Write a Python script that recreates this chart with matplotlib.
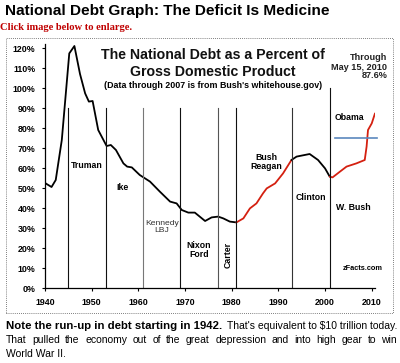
import numpy as np
import matplotlib.pyplot as plt
from matplotlib.patches import Rectangle

# debt as % of GDP
years = [1940.0, 1941.4, 1942.3, 1943.6, 1945.2, 1946.3, 1947.5, 1948.6, 1949.4, 1950.2,
         1951.4, 1953.2, 1954.1, 1955.2, 1956.8, 1957.6, 1958.6, 1960.3, 1962.5, 1964.6,
         1966.8, 1968.2, 1969.3, 1970.7, 1972.1, 1974.3, 1975.7, 1977.1, 1978.2, 1979.6,
         1981.0, 1982.5, 1983.9, 1985.3, 1986.7, 1987.5, 1989.3, 1991.0, 1992.8, 1993.9,
         1996.7, 1998.5, 2000.0, 2001.0, 2001.6, 2003.2, 2004.6, 2006.7, 2008.5, 2008.9,
         2009.2, 2010.0, 2010.7]
debt = [52.5, 50.5, 54.0, 74.0, 117.3, 121.0, 107.0, 97.3, 93.2, 93.5,
        79.0, 71.0, 71.5, 69.0, 62.3, 60.7, 60.3, 56.5, 53.2, 48.2,
        43.2, 42.3, 39.0, 37.7, 37.7, 33.5, 35.3, 35.7, 34.8, 33.2,
        32.8, 34.8, 39.8, 42.3, 47.3, 49.8, 52.3, 57.3, 64.0, 65.7,
        67.0, 64.0, 59.8, 55.7, 55.3, 58.2, 60.7, 62.3, 64.0, 70.7,
        79.0, 82.3, 87.3]

# party segments: (first year, last year, colour)
segments = [(1940, 1981.0, 'black'), (1981.0, 1992.8, '#d42010'), (1992.8, 2001.0, 'black'),
            (2001.0, 2011, '#d42010')]

# start years of each administration, top of its marker line, line colour
term_starts = [1945, 1953, 1961, 1969, 1977, 1981, 1993, 2001]
term_tops = [90, 90, 90, 90, 90, 90, 90, 100]
term_colors = ['#111111', '#111111', '#777777', '#111111', '#555555', '#111111', '#333333', '#111111']

presidents = ['Truman', 'Ike', 'Kennedy\nLBJ', 'Nixon\nFord', 'Carter',
              'Bush\nReagan', 'Clinton', 'W. Bush', 'Obama']
label_x = [1948.9, 1956.7, 1965.0, 1973.0, 1979.2, 1987.5, 1997.0, 2006.0, 2005.3]
label_y = [61.5, 50.0, 30.5, 19.0, 16.5, 63.0, 45.5, 40.5, 85.0]

caption_bold = 'Note the run-up in debt starting in 1942.'
caption_rest = "That's equivalent to $10 trillion today."
caption_2 = 'That pulled the economy out of the great depression and into high gear to win'
caption_3 = 'World War II.'

plt.rcParams['font.family'] = ['Liberation Sans', 'DejaVu Sans']

fig = plt.figure(figsize=(4.0, 3.63), dpi=100)
W, H = 400.0, 363.0

# header texts
fig.text(5 / W, 1 - 11 / H, 'National Debt Graph: The Deficit Is Medicine',
         fontsize=11.1, fontweight='bold', va='center', ha='left')
fig.text(0 / W, 1 - 28 / H, 'Click image below to enlarge.', color='#c00000',
         fontsize=7.6, fontweight='bold', family='Liberation Serif', va='center', ha='left')

# dotted frame round the chart image
fig.patches.append(Rectangle((6 / W, 1 - 313 / H), 387 / W, 275 / H, transform=fig.transFigure,
                             fill=False, ls=(0, (1, 1.5)), lw=0.6, ec='#555555'))

ax = fig.add_axes([45 / W, 1 - 288 / H, 330 / W, 244 / H])

yr = np.array(years)
dv = np.array(debt)
for a, b, c in segments:
    m = (yr >= a - 0.01) & (yr <= b + 0.01)
    ax.plot(yr[m], dv[m], color=c, lw=1.3, solid_joinstyle='round', solid_capstyle='round')

for x, top, c in zip(term_starts, term_tops, term_colors):
    ax.plot([x, x], [0, top], color=c, lw=0.8)

ax.plot([2002.1, 2011.2], [75.2, 75.2], color='#5b87be', lw=1.2, clip_on=False)

for name, x, y in zip(presidents, label_x, label_y):
    if name == 'Carter':
        ax.text(x, y, name, rotation=90, ha='center', va='center', fontsize=6.3, fontweight='bold')
    elif name == 'Kennedy\nLBJ':
        ax.text(x, y, name, ha='center', va='center', fontsize=6.1, color='#333333', linespacing=1.1)
    else:
        ax.text(x, y, name, ha='center', va='center', fontsize=6.3, fontweight='bold', linespacing=1.1)

ax.text(2008.0, 9.5, 'zFacts.com', ha='center', va='center', fontsize=5.3, fontweight='bold')

ax.text(1976.0, 116.5, 'The National Debt as a Percent of',
        ha='center', va='center', fontsize=10.2, fontweight='bold', color='#111111')
ax.text(1976.0, 108.0, 'Gross Domestic Product',
        ha='center', va='center', fontsize=10.2, fontweight='bold', color='#111111')
ax.text(1976.0, 101.5, "(Data through 2007 is from Bush's whitehouse.gov)",
        ha='center', va='center', fontsize=6.4, fontweight='bold')
ax.text(2013.3, 110.5, 'Through\nMay 15, 2010\n87.6%', ha='right', va='center',
        fontsize=6.6, fontweight='bold', linespacing=1.0, color='#222222')

ax.set_xlim(1940, 2010.7)
ax.set_ylim(0, 122)
ax.set_xticks([1940, 1950, 1960, 1970, 1980, 1990, 2000, 2010])
ax.set_yticks(range(0, 121, 10))
ax.set_yticklabels([f'{v}%' for v in range(0, 121, 10)])
for s in ['top', 'right']:
    ax.spines[s].set_visible(False)
for s in ['left', 'bottom']:
    ax.spines[s].set_linewidth(0.9)
ax.tick_params(axis='both', direction='out', length=2.0, width=0.8, labelsize=6.4)
ax.tick_params(axis='y', pad=5)
ax.tick_params(axis='x', pad=5)
for lab in ax.get_xticklabels() + ax.get_yticklabels():
    lab.set_fontweight('bold')
ax.patch.set_alpha(0)

# caption under the image
fig.text(6 / W, 1 - 326 / H, caption_bold, fontsize=8.2,
         fontweight='bold', va='center', ha='left')
fig.text(397 / W, 1 - 326 / H, caption_rest, fontsize=7.5,
         va='center', ha='right')
# second line is justified across the full width
r = fig.canvas.get_renderer()
words = [fig.text(0, 1 - 340 / H, w, fontsize=7.5, va='center', ha='left') for w in caption_2.split()]
widths = [t.get_window_extent(r).width for t in words]
gap = (391 - sum(widths)) / (len(words) - 1)
xpos = 6.0
for t, w in zip(words, widths):
    t.set_x(xpos / W)
    xpos += w + gap
fig.text(6 / W, 1 - 354 / H, caption_3, fontsize=7.5, va='center', ha='left')

fig.savefig('out.png', dpi=100)
